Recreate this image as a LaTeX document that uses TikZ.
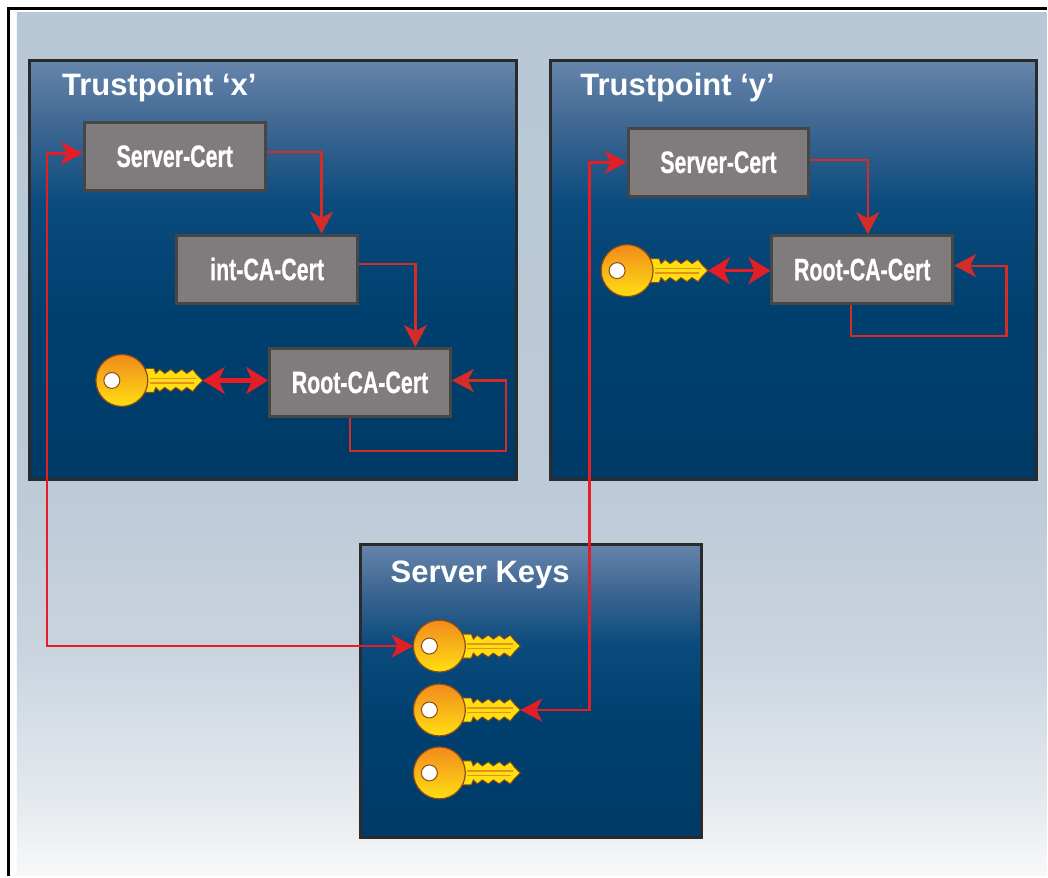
\documentclass[tikz,border=0pt]{standalone}
\usepackage{fontspec}
\setmainfont{Liberation Sans}
\newfontfamily\condfont[FakeStretch=0.69,BoldFeatures={FakeBold=0.6}]{Liberation Sans}
\usepackage{xcolor}
\usetikzlibrary{arrows.meta,positioning,calc}

\definecolor{bgtop}{HTML}{B8C8D6}
\definecolor{bgup}{HTML}{BDCAD7}
\definecolor{bgmid}{HTML}{CAD4DF}
\definecolor{bglow}{HTML}{E4E9EE}
\definecolor{bgbot}{HTML}{F7F8F9}
\definecolor{paneltop}{HTML}{6685AB}
\definecolor{panelup}{HTML}{3D6692}
\definecolor{panelmid}{HTML}{0A4B7D}
\definecolor{panellow}{HTML}{00406F}
\definecolor{panelbot}{HTML}{003A66}
\definecolor{paneledge}{HTML}{2B2B2B}
\definecolor{certgray}{HTML}{807B7C}
\definecolor{certedge}{HTML}{474647}
\definecolor{chainred}{HTML}{D42D28}
\definecolor{linkred}{HTML}{E31E26}
\definecolor{keyorange}{HTML}{F28A1C}
\definecolor{keyyellow}{HTML}{FFDF12}
\definecolor{keyedge}{HTML}{8A4B16}
\definecolor{keystripe}{HTML}{E8901C}

\pgfdeclareverticalshading{bgshade}{100bp}{color(0bp)=(bgbot); color(25bp)=(bgbot); color(29.5bp)=(bglow); color(38bp)=(bgmid); color(47bp)=(bgup); color(75bp)=(bgtop); color(100bp)=(bgtop)}
\pgfdeclareverticalshading{panelshade}{100bp}{color(0bp)=(panelbot); color(25bp)=(panelbot); color(45bp)=(panellow); color(58bp)=(panelmid); color(67bp)=(panelup); color(75bp)=(paneltop); color(100bp)=(paneltop)}

\tikzset{
  keyicon/.pic={
    % blade
    \filldraw[draw=keyedge, line width=0.9pt, fill=keyyellow]
      (20,-12) -- (32,-12) -- (34,-7) -- (38,-11) -- (43,-7) -- (49,-11) -- (54,-7) -- (60,-11) -- (65,-7) -- (71,-11)
      -- (75,-6) -- (81,0) -- (75,6)
      -- (71,11) -- (65,7) -- (60,11) -- (54,7) -- (49,11) -- (43,7) -- (38,11) -- (34,7) -- (32,12) -- (20,12) -- cycle;
    \draw[keystripe, line width=1.5pt] (28,-2) -- (74,-2);
    \draw[keystripe, line width=1.5pt] (28,2.5) -- (72,2.5);
    % bow
    \draw[draw=keyedge, line width=1.2pt, top color=keyorange, bottom color=keyyellow] (0,0) circle (26);
    \draw[draw=keyedge, line width=1pt, fill=white] (-10,0) circle (8);
    \coordinate (-tip) at (81,0);
    \coordinate (-west) at (-26,0);
  }
}

\begin{document}
\begin{tikzpicture}[x=1pt,y=-1pt,
    certbox/.style={draw=certedge, line width=3pt, fill=certgray, minimum width=181pt, minimum height=68pt,
      inner sep=0pt, text=white, font=\condfont\bfseries\fontsize{31}{32}\selectfont},
    paneltitle/.style={anchor=base west, inner sep=0pt, text=white, font=\bfseries\fontsize{31}{32}\selectfont},
    panel/.style={shade, shading=panelshade, draw=paneledge, line width=3pt},
    chainarrow/.style={draw=chainred, line width=2.2pt, -{Stealth[length=22pt,width=23pt,inset=6pt]}},
    linkarrow/.style={draw=linkred, line width=2.5pt, {Stealth[length=22pt,width=23pt,inset=6pt]}-{Stealth[length=22pt,width=23pt,inset=6pt]}},
    keyarrow/.style={draw=linkred, line width=#1, {Stealth[length=22pt,width=27pt,inset=6pt]}-{Stealth[length=22pt,width=27pt,inset=6pt]}}]

    % page and frame
    \fill[white] (0,0) rectangle (1048,877);
    \shade[shading=bgshade] (17,13) rectangle (1048,877);
    \draw[line width=3pt] (8.5,877) |- (1048,8.5);

    % panels
    \path[panel] (30,61) rectangle (517,480);
    \path[panel] (551,61) rectangle (1038,480);
    \path[panel] (361,545) rectangle (702,839);

    \node[paneltitle] (tpxtitle) at (62,96) {Trustpoint ‘x’};
    \node[paneltitle] (tpytitle) at (581,96) {Trustpoint ‘y’};
    \node[paneltitle] (skeystitle) at (391,583) {Server Keys};

    % Trustpoint x
    \node[certbox] (scx) at (175,156.5) {Server-Cert};
    \node[certbox] (intca) at (267.5,269.5) {int-CA-Cert};
    \node[certbox] (rootx) at (360.5,383) {Root-CA-Cert};
    \pic (kx) at (122,381) {keyicon};

    % Trustpoint y
    \node[certbox] (scy) at (719.5,162.5) {Server-Cert};
    \node[certbox] (rooty) at (863.5,270) {Root-CA-Cert};
    \pic (ky) at (628,271) {keyicon};

    % Server keys
    \foreach \i/\ky in {1/647,2/711,3/774}
      \pic (k\i) at (440,\ky) {keyicon};

    % chains
    \draw[chainarrow] ([yshift=4pt]scx.east) -| ([xshift=54.5pt]intca.north);
    \draw[chainarrow] ([yshift=5pt]intca.east) -| ([xshift=55.5pt]rootx.north);
    \draw[chainarrow] ([xshift=-10pt]rootx.south) -- ++(0,33) -- ++(156,0) |- ([yshift=2pt]rootx.east);
    \draw[chainarrow] ([yshift=2.5pt]scy.east) -| ([xshift=5.5pt]rooty.north);
    \draw[chainarrow] ([xshift=-11.5pt]rooty.south) -- ++(0,31) -- ++(156,0) |- ([yshift=4pt]rooty.east);

    % keys to roots
    \draw[keyarrow=5pt] (kx-tip) -- (kx-tip -| rootx.west);
    \draw[keyarrow=3pt] (ky-tip) -- (ky-tip -| rooty.west);

    % server certs to server keys
    \draw[linkarrow] ([yshift=3pt]scx.west) -- ++(-36,0) |- (k1-west);
    \draw[linkarrow] (scy.west) -- ++(-37,0) |- (k2-tip);
\end{tikzpicture}
\end{document}
